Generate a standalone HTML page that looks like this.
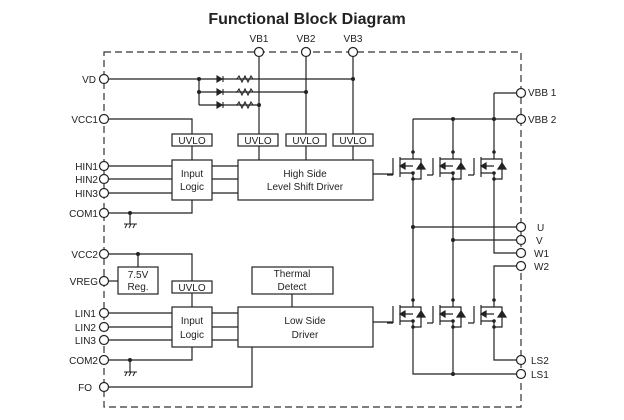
<!DOCTYPE html>
<html><head><meta charset="utf-8"><style>
html,body{margin:0;padding:0;background:#fff}
svg{display:block}
text{font-family:"Liberation Sans",Arial,sans-serif;font-size:10px;fill:#222}
</style></head><body>
<svg width="624" height="420" viewBox="0 0 624 420" xmlns="http://www.w3.org/2000/svg">
<defs>
<g id="fet" fill="none" stroke="#222" stroke-width="1.2">
 <path d="M-13,5 V25 M-20,6 V23 M-26,23 H-20"/>
 <path d="M-13,7 H0 V0 M0,7 H8 V27 H0 M-13,21 H0 V27 M0,14 H-9"/>
 <path d="M-13,14 L-8,11 V17 Z" fill="#222"/>
 <path d="M4,17 H12 M8,11 L4,17 H12 Z" fill="#222"/>
 <circle cx="0" cy="0" r="1.8" fill="#222" stroke="none"/>
 <circle cx="0" cy="21" r="1.8" fill="#222" stroke="none"/>
 <circle cx="0" cy="27" r="1.8" fill="#222" stroke="none"/>
</g>
<g id="gnd" fill="none" stroke="#222" stroke-width="1">
 <path d="M-6,0 H7 M-5,4 L-3,0 M-1,4 L1,0 M3,4 L5,0"/>
</g>
</defs>
<text x="307" y="24" text-anchor="middle" style="font-size:16px;font-weight:bold;fill:#222">Functional Block Diagram</text>
<rect x="104" y="52" width="417" height="355" fill="none" stroke="#333" stroke-width="1.2" stroke-dasharray="7,4"/>
<g fill="none" stroke="#222" stroke-width="1.2">
 <!-- top -->
 <path d="M104,79 H353 M199,79 V105 M199,92 H306 M199,105 H259"/>
 <path d="M259,52 V160 M306,52 V160 M353,52 V160"/>
 <path d="M104,119 H192 V134 M192,146 V160 M104,213 H192 V200"/>
 <path d="M104,166 H172 M104,179 H172 M104,193 H172 M212,166 H238 M212,179 H238 M212,193 H238"/>
 <path d="M130,213 V224"/>
 <path d="M373,174 H393"/>
 <!-- bottom -->
 <path d="M104,254 H192 V281 M192,293 V307 M138,254 V267"/>
 <path d="M104,281 H118"/>
 <path d="M104,313 H172 M104,327 H172 M104,340 H172 M212,313 H238 M212,327 H238 M212,340 H238"/>
 <path d="M104,360 H192 V347 M130,360 V372"/>
 <path d="M104,387 H252 V347 M292,294 V307"/>
 <path d="M373,322 H393"/>
 <!-- right -->
 <path d="M494,93 H521 M413,119 H521"/>
 <path d="M413,119 V152 M453,119 V152 M494,93 V152"/>
 <path d="M413,179 V300 M453,179 V300 M494,179 V253 H521"/>
 <path d="M413,227 H521 M453,240 H521 M494,300 V266 H521"/>
 <path d="M413,327 V374 H521 M453,327 V374 M494,327 V360 H521"/>
 <!-- boxes -->
 <rect x="172" y="134" width="40" height="12" fill="#fff"/>
 <rect x="238" y="134" width="40" height="12" fill="#fff"/>
 <rect x="286" y="134" width="40" height="12" fill="#fff"/>
 <rect x="333" y="134" width="40" height="12" fill="#fff"/>
 <rect x="172" y="160" width="40" height="40" fill="#fff"/>
 <rect x="238" y="160" width="135" height="40" fill="#fff"/>
 <rect x="118" y="267" width="40" height="27" fill="#fff"/>
 <rect x="172" y="281" width="40" height="12" fill="#fff"/>
 <rect x="252" y="267" width="81" height="27" fill="#fff"/>
 <rect x="172" y="307" width="40" height="40" fill="#fff"/>
 <rect x="238" y="307" width="135" height="40" fill="#fff"/>
</g>
<!-- diodes & resistors -->
<g fill="#222" stroke="#222" stroke-width="1.1">
 <path d="M217,76 V82 L222,79 Z M223,76 V82"/>
 <path d="M217,89 V95 L222,92 Z M223,89 V95"/>
 <path d="M217,102 V108 L222,105 Z M223,102 V108"/>
</g>
<g fill="none" stroke="#222" stroke-width="1.1">
 <path d="M237,79 l2,-3 l3,6 l3,-6 l3,6 l3,-6 l2,3"/>
 <path d="M237,92 l2,-3 l3,6 l3,-6 l3,6 l3,-6 l2,3"/>
 <path d="M237,105 l2,-3 l3,6 l3,-6 l3,6 l3,-6 l2,3"/>
</g>
<rect x="224" y="76" width="12" height="32" fill="#fff"/>
<g stroke="#222" stroke-width="1.2"><path d="M223,79 H237 M223,92 H237 M223,105 H237"/></g>
<g fill="#222">
 <circle cx="199" cy="79" r="2"/><circle cx="199" cy="92" r="2"/>
 <circle cx="353" cy="79" r="2"/><circle cx="306" cy="92" r="2"/><circle cx="259" cy="105" r="2"/>
 <circle cx="130" cy="213" r="2"/><circle cx="138" cy="254" r="2"/><circle cx="130" cy="360" r="2"/>
 <circle cx="453" cy="119" r="2"/><circle cx="494" cy="119" r="2"/>
 <circle cx="413" cy="227" r="2"/><circle cx="453" cy="240" r="2"/><circle cx="453" cy="374" r="2"/>
</g>
<use href="#gnd" x="130" y="224"/><use href="#gnd" x="130" y="372"/>
<use href="#fet" x="413" y="152"/><use href="#fet" x="453" y="152"/><use href="#fet" x="494" y="152"/>
<use href="#fet" x="413" y="300"/><use href="#fet" x="453" y="300"/><use href="#fet" x="494" y="300"/>
<!-- pins -->
<g fill="#fff" stroke="#222" stroke-width="1.2">
 <circle cx="104" cy="79" r="4.5"/><circle cx="104" cy="119" r="4.5"/>
 <circle cx="104" cy="166" r="4.5"/><circle cx="104" cy="179" r="4.5"/><circle cx="104" cy="193" r="4.5"/>
 <circle cx="104" cy="213" r="4.5"/><circle cx="104" cy="254" r="4.5"/><circle cx="104" cy="281" r="4.5"/>
 <circle cx="104" cy="313" r="4.5"/><circle cx="104" cy="327" r="4.5"/><circle cx="104" cy="340" r="4.5"/>
 <circle cx="104" cy="360" r="4.5"/><circle cx="104" cy="387" r="4.5"/>
 <circle cx="259" cy="52" r="4.5"/><circle cx="306" cy="52" r="4.5"/><circle cx="353" cy="52" r="4.5"/>
 <circle cx="521" cy="93" r="4.5"/><circle cx="521" cy="119" r="4.5"/>
 <circle cx="521" cy="227" r="4.5"/><circle cx="521" cy="240" r="4.5"/><circle cx="521" cy="253" r="4.5"/>
 <circle cx="521" cy="266" r="4.5"/><circle cx="521" cy="360" r="4.5"/><circle cx="521" cy="374" r="4.5"/>
</g>
<g text-anchor="end">
 <text x="96" y="83">VD</text><text x="98" y="123">VCC1</text>
 <text x="98" y="170">HIN1</text><text x="98" y="183">HIN2</text><text x="98" y="197">HIN3</text>
 <text x="98" y="217">COM1</text><text x="98" y="258">VCC2</text><text x="98" y="285">VREG</text>
 <text x="96" y="317">LIN1</text><text x="96" y="331">LIN2</text><text x="96" y="344">LIN3</text>
 <text x="98" y="364">COM2</text><text x="92" y="391">FO</text>
</g>
<g text-anchor="middle">
 <text x="259" y="42">VB1</text><text x="306" y="42">VB2</text><text x="353" y="42">VB3</text>
 <text x="192" y="144">UVLO</text><text x="258" y="144">UVLO</text><text x="306" y="144">UVLO</text><text x="353" y="144">UVLO</text>
 <text x="192" y="177">Input</text><text x="192" y="190">Logic</text>
 <text x="305" y="177">High Side</text><text x="305" y="190">Level Shift Driver</text>
 <text x="138" y="278">7.5V</text><text x="138" y="290">Reg.</text>
 <text x="192" y="291">UVLO</text>
 <text x="292" y="277">Thermal</text><text x="292" y="290">Detect</text>
 <text x="192" y="324">Input</text><text x="192" y="338">Logic</text>
 <text x="305" y="324">Low Side</text><text x="305" y="338">Driver</text>
</g>
<g>
 <text x="528" y="96">VBB 1</text><text x="528" y="123">VBB 2</text>
 <text x="537" y="231">U</text><text x="536" y="244">V</text>
 <text x="534" y="257">W1</text><text x="534" y="270">W2</text>
 <text x="531" y="364">LS2</text><text x="531" y="378">LS1</text>
</g>
</svg>
</body></html>
